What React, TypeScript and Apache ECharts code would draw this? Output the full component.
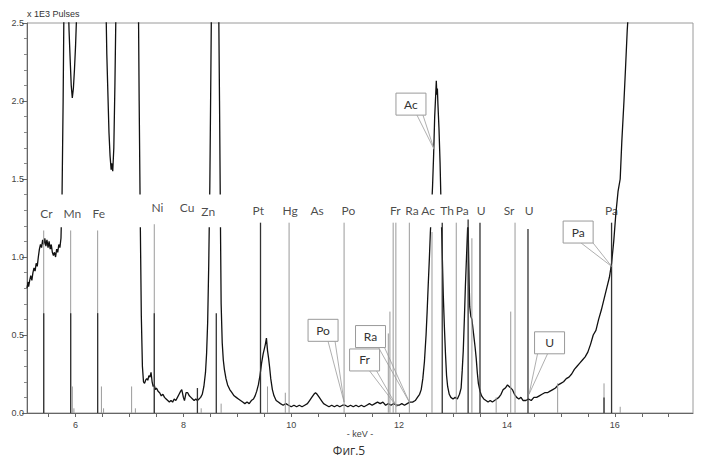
import React, { useEffect, useRef } from 'react';
import * as echarts from 'echarts';

// ---- spectrum (keV, x1E3 pulses) ----
const spectrumCr: [number, number][] = [
  [5.10, 0.80], [5.12, 0.84], [5.13, 0.81], [5.15, 0.85], [5.17, 0.88], [5.19, 0.85], [5.21, 0.90],
  [5.23, 0.93], [5.25, 0.91], [5.27, 0.96], [5.29, 0.94], [5.31, 1.00], [5.33, 1.05], [5.35, 1.08],
  [5.37, 1.06], [5.39, 1.11], [5.41, 1.08], [5.43, 1.12], [5.45, 1.07], [5.47, 1.11], [5.49, 1.06],
  [5.51, 1.10], [5.53, 1.05], [5.55, 1.08], [5.57, 1.03], [5.59, 1.01], [5.61, 1.03], [5.63, 1.00],
  [5.65, 1.05], [5.67, 1.03], [5.69, 1.08], [5.71, 1.06], [5.73, 1.12],
];
const spectrumMnFe: [number, number][] = [
  [5.75, 1.40], [5.77, 2.00], [5.79, 2.80], [5.83, 3.20], [5.86, 2.70], [5.88, 2.45], [5.90, 2.27],
  [5.92, 2.10], [5.94, 2.02], [5.96, 2.08], [5.98, 2.20], [6.00, 2.35], [6.02, 2.55], [6.04, 3.00],
  [6.10, 3.20], [6.30, 3.20], [6.50, 3.20], [6.56, 2.70], [6.58, 2.30], [6.60, 2.05], [6.62, 1.80],
  [6.64, 1.65], [6.66, 1.56], [6.67, 1.60], [6.69, 1.55], [6.71, 1.70], [6.73, 2.10], [6.75, 2.60],
  [6.78, 3.20], [7.00, 3.20], [7.14, 3.20],
];
const spectrumNiZn: [number, number][] = [
  [7.16, 2.90], [7.18, 2.00], [7.20, 1.25], [7.22, 0.62], [7.24, 0.30], [7.26, 0.20], [7.28, 0.19],
  [7.30, 0.21], [7.32, 0.22], [7.34, 0.21], [7.36, 0.24], [7.38, 0.23], [7.40, 0.26], [7.42, 0.20],
  [7.44, 0.17], [7.46, 0.18], [7.48, 0.15], [7.50, 0.16], [7.53, 0.14], [7.56, 0.13], [7.59, 0.11],
  [7.62, 0.12], [7.65, 0.10], [7.68, 0.09], [7.71, 0.08], [7.74, 0.07], [7.77, 0.08], [7.80, 0.07],
  [7.83, 0.09], [7.86, 0.08], [7.89, 0.10], [7.92, 0.12], [7.95, 0.14], [7.97, 0.15], [8.00, 0.10],
  [8.02, 0.08], [8.05, 0.13], [8.08, 0.13], [8.11, 0.11], [8.14, 0.10], [8.17, 0.09], [8.20, 0.08],
  [8.23, 0.09], [8.26, 0.08], [8.29, 0.09], [8.32, 0.10], [8.35, 0.12], [8.38, 0.17], [8.41, 0.26],
  [8.43, 0.38], [8.45, 0.58], [8.47, 0.95], [8.49, 1.45], [8.51, 2.20], [8.53, 3.00], [8.60, 3.20],
  [8.65, 2.80], [8.67, 2.00], [8.69, 1.10], [8.70, 0.70], [8.72, 0.45], [8.74, 0.34], [8.76, 0.28],
  [8.79, 0.22], [8.82, 0.18], [8.86, 0.15], [8.90, 0.13], [8.94, 0.11], [8.98, 0.10], [9.02, 0.09],
  [9.06, 0.08], [9.10, 0.07], [9.14, 0.06], [9.18, 0.07], [9.22, 0.06], [9.26, 0.08], [9.30, 0.09],
  [9.33, 0.11], [9.36, 0.14], [9.39, 0.18], [9.42, 0.24], [9.45, 0.32], [9.48, 0.38], [9.50, 0.41],
  [9.52, 0.44], [9.54, 0.48], [9.56, 0.40], [9.58, 0.35], [9.60, 0.29], [9.62, 0.22], [9.65, 0.15],
  [9.68, 0.11], [9.72, 0.08], [9.76, 0.07], [9.80, 0.06],
];
const spectrumMid: [number, number][] = [
  [9.85, 0.05], [9.90, 0.06], [9.95, 0.05], [10.00, 0.04], [10.05, 0.05], [10.10, 0.04], [10.15, 0.05],
  [10.20, 0.04], [10.25, 0.05], [10.30, 0.06], [10.34, 0.08], [10.38, 0.10], [10.42, 0.12], [10.45, 0.13],
  [10.48, 0.12], [10.52, 0.10], [10.56, 0.08], [10.60, 0.06], [10.65, 0.05], [10.70, 0.04], [10.75, 0.05],
  [10.80, 0.04], [10.85, 0.05], [10.90, 0.04], [10.95, 0.05], [11.00, 0.05], [11.05, 0.04], [11.10, 0.05],
  [11.15, 0.04], [11.20, 0.05], [11.25, 0.04], [11.30, 0.05], [11.35, 0.04], [11.40, 0.05], [11.45, 0.06],
  [11.50, 0.05], [11.55, 0.06], [11.60, 0.07], [11.65, 0.06], [11.70, 0.07], [11.75, 0.05], [11.80, 0.06],
  [11.85, 0.05], [11.90, 0.06], [11.95, 0.05], [12.00, 0.05], [12.05, 0.06], [12.10, 0.05], [12.15, 0.06],
  [12.20, 0.07], [12.25, 0.07], [12.30, 0.08], [12.34, 0.10], [12.38, 0.12], [12.41, 0.15], [12.44, 0.22],
  [12.47, 0.33], [12.50, 0.50], [12.52, 0.65], [12.54, 0.82], [12.56, 0.98], [12.58, 1.16], [12.60, 1.30],
  [12.62, 1.45], [12.64, 1.65], [12.66, 1.90], [12.68, 2.05], [12.69, 2.13], [12.70, 2.04], [12.71, 2.08],
  [12.72, 1.98], [12.74, 1.82], [12.76, 1.60], [12.78, 1.30], [12.80, 1.02], [12.82, 0.75], [12.84, 0.55],
  [12.86, 0.38], [12.88, 0.24], [12.90, 0.17], [12.93, 0.12], [12.96, 0.10], [13.00, 0.09], [13.04, 0.10],
  [13.08, 0.09], [13.12, 0.12], [13.15, 0.16], [13.17, 0.27], [13.19, 0.40], [13.21, 0.60], [13.23, 0.82],
  [13.25, 1.00], [13.27, 1.18], [13.28, 1.22], [13.29, 1.00], [13.30, 0.82], [13.31, 0.68], [13.33, 0.62],
  [13.35, 0.60], [13.37, 0.54], [13.39, 0.48], [13.41, 0.42], [13.43, 0.35], [13.45, 0.26], [13.47, 0.19],
  [13.50, 0.14], [13.53, 0.11], [13.57, 0.09], [13.61, 0.08], [13.65, 0.07], [13.69, 0.08], [13.73, 0.07],
];
const spectrumHigh: [number, number][] = [
  [13.77, 0.08], [13.81, 0.09], [13.85, 0.10], [13.89, 0.12], [13.93, 0.15], [13.97, 0.16], [14.01, 0.18],
  [14.04, 0.17], [14.07, 0.16], [14.10, 0.15], [14.14, 0.12], [14.18, 0.10], [14.22, 0.09], [14.26, 0.10],
  [14.30, 0.08], [14.35, 0.08], [14.40, 0.09], [14.45, 0.08], [14.50, 0.10], [14.55, 0.10], [14.60, 0.11],
  [14.65, 0.12], [14.70, 0.13], [14.75, 0.13], [14.80, 0.14], [14.85, 0.15], [14.90, 0.16], [14.95, 0.18],
  [15.00, 0.19], [15.05, 0.20], [15.10, 0.22], [15.15, 0.23], [15.20, 0.25], [15.25, 0.28], [15.30, 0.30],
  [15.35, 0.32], [15.40, 0.34], [15.45, 0.36], [15.50, 0.39], [15.55, 0.44], [15.60, 0.50], [15.65, 0.53],
  [15.70, 0.60], [15.75, 0.66], [15.80, 0.73], [15.85, 0.80], [15.90, 0.87], [15.94, 0.96], [15.98, 1.10],
  [16.02, 1.28], [16.06, 1.42], [16.10, 1.50], [16.13, 1.74], [16.17, 2.00], [16.20, 2.22], [16.23, 2.45],
  [16.26, 2.62],
];

// ---- element marker lines (keV, top value, shade 0 = grey, 1 = dark) ----
const markerEnergy = [
  5.41, 5.91, 6.41, 7.46, 9.43, 9.96, 10.98, 11.89, 11.94, 12.19, 12.61, 12.80, 13.06, 13.28, 13.35,
  13.50, 14.15, 14.39, 15.94,
  5.41, 5.91, 6.41, 7.46, 8.61,
  5.94, 5.97, 6.48, 6.52, 7.04, 7.11, 8.26, 8.33, 8.70, 9.56, 9.89, 11.80, 11.83, 13.80, 14.07, 14.94,
  15.80, 15.80, 16.10,
];
const markerTop = [
  1.17, 1.17, 1.17, 1.21, 1.22, 1.22, 1.22, 1.22, 1.22, 1.22, 1.16, 1.22, 1.22, 1.24, 1.12,
  1.22, 1.22, 1.18, 1.22,
  0.64, 0.64, 0.64, 0.64, 0.64,
  0.17, 0.03, 0.17, 0.03, 0.17, 0.03, 0.16, 0.03, 0.06, 0.17, 0.13, 0.51, 0.65, 0.10, 0.65, 0.19,
  0.19, 0.10, 0.04,
];
const markerShade = [
  0, 0, 0, 0, 1, 0, 0, 0, 0, 0, 0, 1, 0, 1, 0,
  1, 0, 1, 1,
  1, 1, 1, 1, 1,
  0, 0, 0, 0, 0, 0, 1, 0, 0, 0, 0, 0, 0, 0, 0, 0,
  0, 1, 0,
];

// ---- element labels ----
const labelNames = ['Cr', 'Mn', 'Fe', 'Ni', 'Cu', 'Zn', 'Pt', 'Hg', 'As', 'Po', 'Fr', 'Ra', 'Ac', 'Th', 'Pa', 'U', 'Sr', 'U', 'Pa'];
const labelEnergy = [5.46, 5.94, 6.43, 7.52, 8.07, 8.46, 9.39, 9.98, 10.48, 11.06, 11.93, 12.24, 12.54, 12.89, 13.17, 13.52, 14.04, 14.41, 15.94];
const labelHeight = [1.28, 1.28, 1.28, 1.32, 1.32, 1.29, 1.30, 1.30, 1.30, 1.30, 1.30, 1.30, 1.30, 1.30, 1.30, 1.30, 1.30, 1.30, 1.30];

// ---- callouts: name, anchor (keV, value), box centre (keV, value) ----
const calloutNames = ['Ac', 'Po', 'Ra', 'Fr', 'Pa', 'U'];
const calloutAnchor: [number, number][] = [[12.65, 1.69], [10.98, 0.07], [12.19, 0.07], [11.96, 0.04], [15.94, 0.94], [14.41, 0.12]];
const calloutBox: [number, number][] = [[12.22, 1.98], [10.59, 0.53], [11.47, 0.49], [11.36, 0.34], [15.32, 1.16], [14.79, 0.45]];

const xTickLabels = [6, 8, 10, 12, 14, 16];
const xTicks = [5.5, 6, 6.5, 7, 7.5, 8, 8.5, 9, 9.5, 10, 10.5, 11, 11.5, 12, 12.5, 13, 13.5, 14, 14.5, 15, 15.5, 16, 16.5, 17];
const xAxisTitle = '- keV -';
const figureCaption = 'Фиг.5';

const LABEL_FONT = 'Lato, "Open Sans", sans-serif';
const AXIS_FONT = '"Liberation Sans", Arial, sans-serif';

export default function App() {
  const ref = useRef<HTMLDivElement>(null);
  useEffect(() => {
    const chart = echarts.init(ref.current as HTMLDivElement, null, { renderer: 'svg' });
    const spectrum = [...spectrumCr, ...spectrumMnFe, ...spectrumNiZn, ...spectrumMid, ...spectrumHigh];
    chart.setOption({
      animation: false,
      backgroundColor: '#fff',
      grid: { left: 27, right: 16, top: 23, bottom: 44, show: true, borderColor: '#9a9a9a', borderWidth: 1 },
      xAxis: {
        type: 'value', min: 5.1, max: 17.45,
        axisLine: { show: true, lineStyle: { color: '#666', width: 1 } },
        axisTick: { show: true, length: 4, customValues: xTicks, lineStyle: { color: '#666' } },
        axisLabel: { customValues: xTickLabels, fontSize: 9, color: '#444', margin: 7, fontFamily: AXIS_FONT },
        splitLine: { show: false },
      },
      yAxis: {
        type: 'value', min: 0, max: 2.5, interval: 0.5,
        axisLine: { show: true, lineStyle: { color: '#666', width: 1 } },
        axisTick: { show: true, length: 5, lineStyle: { color: '#666' } },
        minorTick: { show: true, splitNumber: 5, length: 3, lineStyle: { color: '#888' } },
        axisLabel: { formatter: (v: number) => v.toFixed(1), fontSize: 9, color: '#444', margin: 3, fontFamily: AXIS_FONT },
        splitLine: { show: false },
        name: 'x 1E3 Pulses', nameLocation: 'end', nameGap: 5,
        nameTextStyle: { align: 'left', fontSize: 9, color: '#333', fontFamily: AXIS_FONT },
      },
      series: [
        {
          type: 'line', data: spectrum, showSymbol: false, symbol: 'none', clip: true, z: 2,
          lineStyle: { color: '#111', width: 1.3 }, silent: true,
        },
        {
          type: 'custom', z: 4, clip: true, silent: true,
          data: markerEnergy.map((e, i) => [e, markerTop[i], markerShade[i]]),
          encode: { x: 0, y: 1 },
          renderItem: (_p: any, api: any) => {
            const x = api.value(0);
            const top = api.value(1);
            const shade = api.value(2);
            const p0 = api.coord([x, 0]);
            const p1 = api.coord([x, top]);
            return {
              type: 'line',
              shape: { x1: p0[0], y1: p0[1], x2: p1[0], y2: p1[1] },
              style: { stroke: shade ? '#333' : '#9a9a9a', lineWidth: shade ? 1.3 : 1 },
            };
          },
        },
        {
          type: 'scatter', z: 5, silent: true, symbolSize: 1,
          itemStyle: { color: 'rgba(0,0,0,0)' },
          data: labelNames.map((n, i) => ({ name: n, value: [labelEnergy[i], labelHeight[i]] })),
          label: { show: true, position: 'inside', formatter: '{b}', color: '#1a1a1a', fontSize: 12, fontFamily: LABEL_FONT },
        },
      ],
    });

    const px = (x: number, y: number) => chart.convertToPixel({ xAxisIndex: 0, yAxisIndex: 0 }, [x, y]) as number[];
    const bandA = px(5.1, 1.40);
    const bandB = px(15.75, 1.19);
    const baseOffsets: [number, number][] = [[6, 12], [5, 12], [8, 14], [5, 12], [3, 15], [-12, -2]];
    const elements: any[] = [
      {
        type: 'rect', z: 3, silent: true,
        shape: { x: bandA[0] + 1, y: bandA[1], width: bandB[0] - bandA[0] - 1, height: bandB[1] - bandA[1] },
        style: { fill: '#fff' },
      },
    ];
    calloutNames.forEach((name, i) => {
      const a = px(calloutAnchor[i][0], calloutAnchor[i][1]);
      const c = px(calloutBox[i][0], calloutBox[i][1]);
      const w = 30, h = 22;
      const by = c[1] + h / 2;
      elements.push({
        type: 'polyline', z: 10, silent: true,
        shape: { points: [[c[0] + baseOffsets[i][0], by], [a[0], a[1]], [c[0] + baseOffsets[i][1], by]] },
        style: { stroke: '#9a9a9a', fill: null, lineWidth: 0.8 },
      });
      elements.push({
        type: 'rect', z: 11, silent: true,
        shape: { x: c[0] - w / 2, y: c[1] - h / 2, width: w, height: h },
        style: { fill: '#fff', stroke: '#9a9a9a', lineWidth: 1 },
      });
      elements.push({
        type: 'text', z: 12, silent: true, x: c[0], y: c[1],
        style: { text: name, fill: '#333', font: `12px ${LABEL_FONT}`, align: 'center', verticalAlign: 'middle', textAlign: 'center', textVerticalAlign: 'middle' },
      });
    });
    const gridLeft = px(5.1, 0)[0];
    const gridRight = px(17.45, 0)[0];
    elements.push({
      type: 'text', z: 12, silent: true, x: (gridLeft + gridRight) / 2, y: 434,
      style: { text: xAxisTitle, fill: '#444', font: `9px ${AXIS_FONT}`, align: 'center', verticalAlign: 'middle', textAlign: 'center', textVerticalAlign: 'middle' },
    });
    elements.push({
      type: 'text', z: 12, silent: true, x: 349, y: 450,
      style: { text: figureCaption, fill: '#333', font: `12px "Open Sans", sans-serif`, align: 'center', verticalAlign: 'middle', textAlign: 'center', textVerticalAlign: 'middle' },
    });
    chart.setOption({ graphic: elements });
    return () => chart.dispose();
  }, []);
  return <div ref={ref} style={{ position: 'fixed', left: 0, top: 0, width: 709, height: 457, background: '#fff' }} />;
}
